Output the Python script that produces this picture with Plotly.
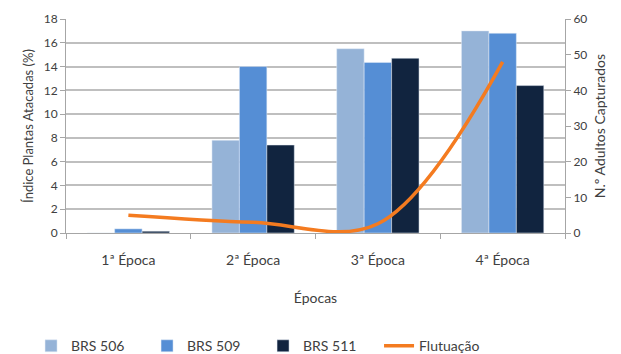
import plotly.graph_objects as go

categories = ["1ª Época", "2ª Época", "3ª Época", "4ª Época"]
brs506 = [0, 7.8, 15.5, 17.0]
brs509 = [0.35, 14.0, 14.35, 16.8]
brs511 = [0.15, 7.4, 14.7, 12.4]
flutuacao = [5, 3, 2.6, 48]

font = "Lato"
gray = "#a6a6a6"

fig = go.Figure()
fig.add_trace(go.Bar(x=categories, y=brs506, name="BRS 506", marker_color="#95b3d7"))
fig.add_trace(go.Bar(x=categories, y=brs509, name="BRS 509", marker_color="#558ed5"))
fig.add_trace(go.Bar(x=categories, y=brs511, name="BRS 511", marker_color="#11243f"))
fig.add_trace(go.Scatter(x=categories, y=flutuacao, name="Flutuação", mode="lines",
                         line=dict(color="#f47b20", width=3.5, shape="spline", smoothing=1),
                         yaxis="y2"))

fig.update_layout(
    width=621, height=354,
    margin=dict(l=66, r=56, t=19, b=121),
    paper_bgcolor="white", plot_bgcolor="white",
    font=dict(family=font, size=13, color="#404040"),
    barmode="group", bargap=0.34, bargroupgap=0,
    showlegend=True,
    legend=dict(orientation="h", xref="container", yref="container",
                x=0.05, xanchor="left", y=0.022, yanchor="middle",
                font=dict(size=14, color="#404040"), itemwidth=30,
                entrywidth=71, entrywidthmode="pixels", traceorder="normal"),
    xaxis=dict(title=dict(text="Épocas", font=dict(size=14), standoff=26),
               showline=True, linecolor=gray, ticks="outside", tickson="boundaries",
               tickcolor=gray, ticklen=5, tickfont=dict(size=14), showgrid=False,
               ticklabelstandoff=14, automargin=False),
    yaxis=dict(title=dict(text="Índice Plantas Atacadas (%)", font=dict(size=13), standoff=7),
               range=[0, 18], dtick=2, showline=True, linecolor=gray,
               ticks="outside", tickcolor=gray, ticklen=5, automargin=False,
               gridcolor="#bfbfbf", gridwidth=1.5, tickfont=dict(size=12), zeroline=False),
    yaxis2=dict(title=dict(text="N.º Adultos Capturados", font=dict(size=14), standoff=8),
                overlaying="y", side="right", range=[0, 60], dtick=10, automargin=False,
                showline=True, linecolor=gray, ticks="outside", tickcolor=gray, ticklen=5,
                showgrid=False, tickfont=dict(size=12), zeroline=False),
)

fig.write_html("out.html")
